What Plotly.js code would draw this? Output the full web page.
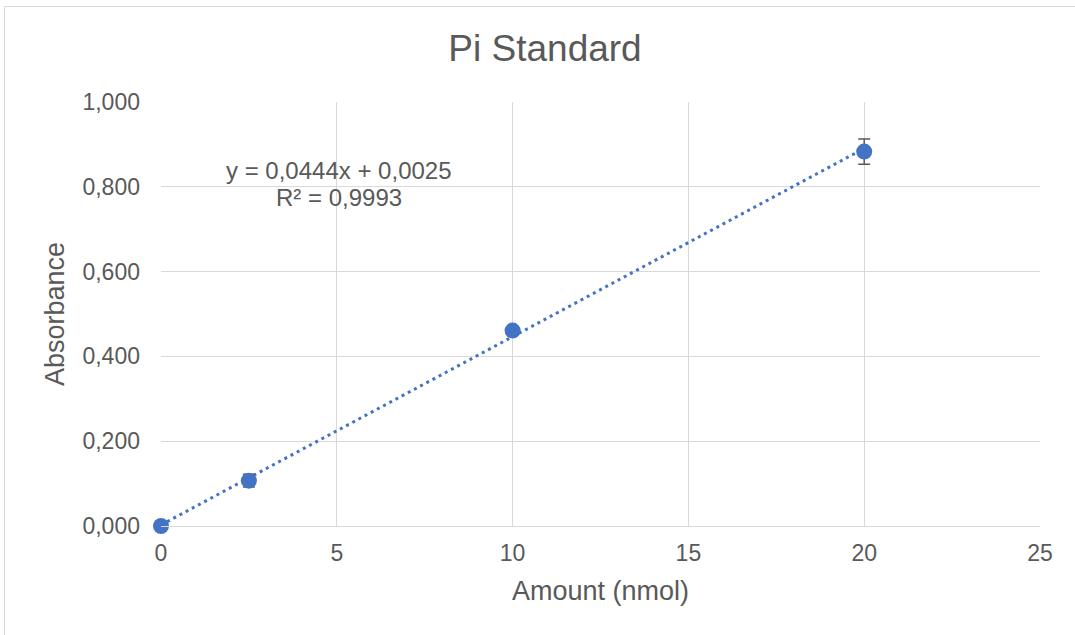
<!DOCTYPE html>
<html>
<head>
<meta charset="utf-8">
<script src="https://cdn.plot.ly/plotly-3.0.1.min.js"></script>
<style>
  html, body { margin: 0; padding: 0; overflow: hidden; background: #fff; }
  #chart { width: 1075px; height: 635px; }
  #frame { position: absolute; left: 4px; top: 6px; width: 1200px; height: 800px;
           border: 1px solid #d9d9d9; pointer-events: none; }
</style>
</head>
<body>
<div id="chart"></div>
<div id="frame"></div>
<script>
const amounts = [0, 2.5, 10, 20];
const absorbance = [0.000, 0.107, 0.461, 0.883];
const errors = [0.000, 0.015, 0.006, 0.030];
const trendSlope = 0.0444;
const trendIntercept = 0.0025;
const trendX = [0, 20];
const xTicks = [0, 5, 10, 15, 20, 25];
const yTicks = [0, 0.2, 0.4, 0.6, 0.8, 1.0];
const eqText = 'y = 0,0444x + 0,0025';
const r2Text = 'R² = 0,9993';

const blue = '#4472C4';
const textColor = '#595959';
const gridColor = '#d9d9d9';
const font = '"Liberation Sans", Arial, sans-serif';

const traces = [
  {
    x: trendX,
    y: trendX.map(v => trendSlope * v + trendIntercept),
    mode: 'lines',
    line: { color: blue, width: 3, dash: '3px,4px' },
    hoverinfo: 'skip',
    showlegend: false
  },
  {
    x: amounts,
    y: absorbance,
    mode: 'markers',
    marker: { color: blue, size: 16 },
    error_y: { type: 'data', array: errors, visible: true, color: '#595959', thickness: 1.5, width: 6 },
    cliponaxis: false,
    showlegend: false
  }
];

const layout = {
  width: 1075, height: 635,
  margin: { l: 161, r: 35, t: 102, b: 109 },
  paper_bgcolor: 'rgba(0,0,0,0)',
  plot_bgcolor: '#fff',
  separators: ',.',
  font: { family: font, color: textColor, size: 18 },
  title: { text: 'Pi Standard', font: { family: font, size: 37, color: textColor }, x: 0.507, xanchor: 'center', y: 0.925, yanchor: 'middle' },
  xaxis: {
    range: [0, 25], tickvals: xTicks, ticktext: xTicks.map(String),
    showgrid: true, gridcolor: gridColor, gridwidth: 1.3,
    zeroline: false, showline: true, linecolor: gridColor, linewidth: 1.3,
    ticks: '', tickfont: { size: 23, color: textColor }, ticklabelstandoff: 6,
    title: { text: 'Amount (nmol)', font: { size: 27, color: textColor }, standoff: 16 }
  },
  yaxis: {
    range: [0, 1], tickvals: yTicks, tickformat: ',.3f',
    showgrid: true, gridcolor: gridColor, gridwidth: 1.3,
    zeroline: false, showline: false,
    ticks: '', tickfont: { size: 23, color: textColor }, ticklabelstandoff: 20,
    title: { text: 'Absorbance', font: { size: 27, color: textColor }, standoff: 9 }
  },
  annotations: [
    { text: eqText, xref: 'paper', yref: 'paper', x: (339 - 161) / 879, y: (526 - 170) / 424,
      xanchor: 'center', yanchor: 'middle', showarrow: false, font: { size: 24, color: textColor } },
    { text: r2Text, xref: 'paper', yref: 'paper', x: (339 - 161) / 879, y: (526 - 197) / 424,
      xanchor: 'center', yanchor: 'middle', showarrow: false, font: { size: 24, color: textColor } }
  ]
};

Plotly.newPlot('chart', traces, layout, { displayModeBar: false, staticPlot: true });
</script>
</body>
</html>
